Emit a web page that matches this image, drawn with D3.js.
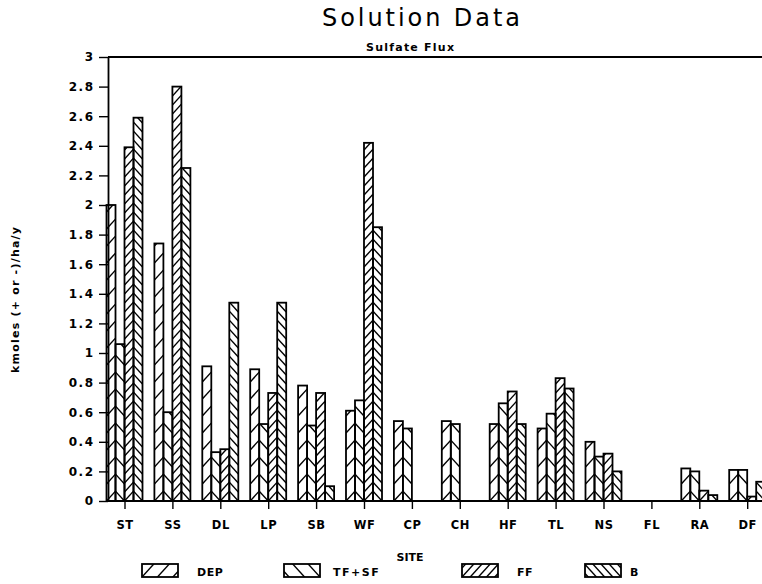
<!DOCTYPE html>
<html><head><meta charset="utf-8">
<script src="https://cdn.jsdelivr.net/npm/d3@7"></script>
<style>html,body{margin:0;padding:0;background:#fff}</style>
</head><body>
<svg id="chart" width="762" height="584"></svg>
<script>
// ---- data ----
const categories = ["ST","SS","DL","LP","SB","WF","CP","CH","HF","TL","NS","FL","RA","DF"];
const seriesNames = ["DEP","TF+SF","FF","B"];
const depValues  = [2.00,1.74,0.91,0.89,0.78,0.61,0.54,0.54,0.52,0.49,0.40,0,0.22,0.21];
const tfsfValues = [1.06,0.60,0.33,0.52,0.51,0.68,0.49,0.52,0.66,0.59,0.30,0,0.20,0.21];
const ffValues   = [2.39,2.80,0.35,0.73,0.73,2.42,0,0,0.74,0.83,0.32,0,0.07,0.03];
const bValues    = [2.59,2.25,1.34,1.34,0.10,1.85,0,0,0.52,0.76,0.20,0,0.04,0.13];
const yTickValues = [0,0.2,0.4,0.6,0.8,1,1.2,1.4,1.6,1.8,2,2.2,2.4,2.6,2.8,3];
const titleText = "Solution Data";
const subtitleText = "Sulfate Flux";
const xLabel = "SITE";
const yLabel = "kmoles (+ or -)/ha/y";

// ---- layout ----
const W = 762, H = 584;
const axisX = 108, yZero = 501, yTop = 57;
const svg = d3.select("#chart");
const x = d3.scalePoint().domain(categories).range([124.5, 747.2]);
const inner = d3.scaleBand().domain(seriesNames).range([-18, 18]);
const y = d3.scaleLinear().domain([0, 3]).range([yZero, yTop]);
const valuesBySeries = {"DEP": depValues, "TF+SF": tfsfValues, "FF": ffValues, "B": bValues};
const hatch = {"DEP": {dir: 1, period: 17}, "TF+SF": {dir: -1, period: 17}, "FF": {dir: 1, period: 9}, "B": {dir: -1, period: 9}};
const slope = 1.1;
const FONT = "'DejaVu Sans', Verdana, sans-serif";

const defs = svg.append("defs");
let clipCount = 0;

function drawHatched(g, x0, w, top, base, spec) {
  const id = "clip" + (clipCount++);
  defs.append("clipPath").attr("id", id).append("rect")
    .attr("x", x0).attr("y", top).attr("width", w).attr("height", base - top);
  const hg = g.append("g").attr("clip-path", `url(#${id})`);
  const h = base - top;
  const kMin = -Math.ceil(slope * w / spec.period) - 1;
  const kMax = Math.ceil(h / spec.period) + 1;
  for (let k = kMin; k <= kMax; k++) {
    const yb = base - k * spec.period;
    hg.append("line")
      .attr("x1", x0).attr("x2", x0 + w)
      .attr("y1", spec.dir > 0 ? yb : yb - slope * w)
      .attr("y2", spec.dir > 0 ? yb - slope * w : yb)
      .attr("stroke", "#000").attr("stroke-width", 1.4);
  }
  g.append("rect").attr("x", x0).attr("y", top).attr("width", w).attr("height", base - top)
    .attr("fill", "none").attr("stroke", "#000").attr("stroke-width", 1.8);
}

// bars
const barsG = svg.append("g");
categories.forEach((c, i) => {
  seriesNames.forEach(s => {
    const v = valuesBySeries[s][i];
    if (!v) return;
    const x0 = x(c) + inner(s);
    drawHatched(barsG, x0, inner.bandwidth(), y(v), y(0), hatch[s]);
  });
});

// y axis
const yAxis = d3.axisLeft(y).tickValues(yTickValues).tickSize(9).tickSizeOuter(0).tickPadding(6)
  .tickFormat(d3.format("~g"));
const yg = svg.append("g").attr("transform", `translate(${axisX},0)`).call(yAxis);
yg.select(".domain").attr("stroke-width", 1.8);
yg.selectAll(".tick line").attr("stroke-width", 1.4);
yg.selectAll(".tick text").attr("font-family", FONT).attr("font-weight", "bold")
  .attr("font-size", 12).attr("letter-spacing", 1.5).attr("dx", 1.5).attr("fill", "#000");

// top line
svg.append("line").attr("x1", axisX).attr("x2", W).attr("y1", y(3)).attr("y2", y(3))
  .attr("stroke", "#000").attr("stroke-width", 1.8);

// x axis
const xAxis = d3.axisBottom(x).tickSize(8).tickSizeOuter(0).tickPadding(12);
const xg = svg.append("g").attr("transform", `translate(0,${yZero})`).call(xAxis);
xg.select(".domain").remove();
xg.selectAll(".tick line").attr("stroke-width", 1.4);
xg.selectAll(".tick text").attr("font-family", FONT).attr("font-weight", "bold")
  .attr("font-size", 11.5).attr("letter-spacing", 0.5).attr("fill", "#000");
svg.append("line").attr("x1", axisX).attr("x2", W).attr("y1", yZero).attr("y2", yZero)
  .attr("stroke", "#000").attr("stroke-width", 1.8);

// titles
svg.append("text").attr("x", 421).attr("y", 26).attr("text-anchor", "middle")
  .attr("font-family", FONT).attr("font-size", 24).attr("textLength", 198)
  .attr("lengthAdjust", "spacing").text(titleText);
svg.append("text").attr("x", 410).attr("y", 51).attr("text-anchor", "middle")
  .attr("font-family", FONT).attr("font-weight", "bold").attr("font-size", 11)
  .attr("textLength", 88).attr("lengthAdjust", "spacing").text(subtitleText);
svg.append("text").attr("x", 410).attr("y", 561).attr("text-anchor", "middle")
  .attr("font-family", FONT).attr("font-weight", "bold").attr("font-size", 11).text(xLabel);
svg.append("text").attr("transform", "translate(19,300) rotate(-90)").attr("text-anchor", "middle")
  .attr("font-family", FONT).attr("font-weight", "bold").attr("font-size", 11)
  .attr("textLength", 146).attr("lengthAdjust", "spacing").text(yLabel);

// legend
const legendBoxX = [142, 284, 462, 585];
const legendTextX = [197, 333, 517, 630];
const legendG = svg.append("g");
seriesNames.forEach((s, i) => {
  drawHatched(legendG, legendBoxX[i], 36, 564, 577, hatch[s]);
  legendG.append("text").attr("x", legendTextX[i]).attr("y", 575.5)
    .attr("font-family", FONT).attr("font-weight", "bold").attr("font-size", 11)
    .attr("letter-spacing", s === "TF+SF" ? 1.5 : 0.5).text(s);
});
</script>
</body></html>
